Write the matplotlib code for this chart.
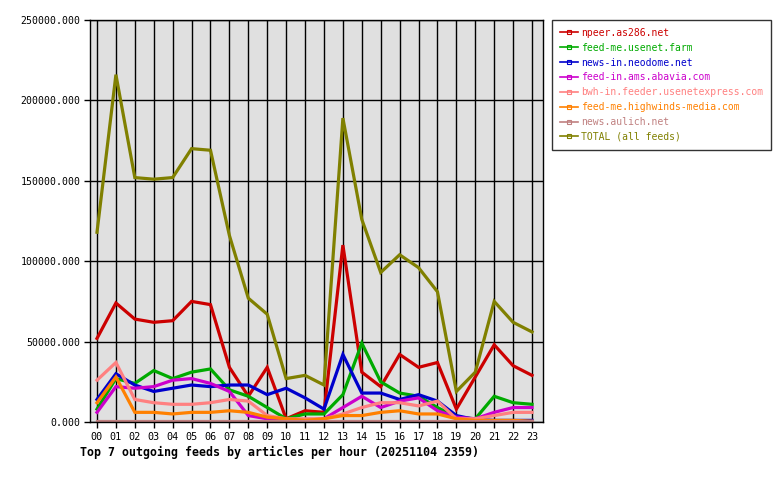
import matplotlib
matplotlib.use('Agg')
import matplotlib.pyplot as plt
from matplotlib.lines import Line2D
from matplotlib.ticker import FormatStrFormatter

# hours of the day
hours = ['%02d' % h for h in range(24)]

# articles per hour
npeer = [52000, 74000, 64000, 62000, 63000, 75000, 73000, 34000, 16000, 34000, 2000, 7000,
         6000, 110000, 31000, 22000, 42000, 34000, 37000, 8000, 28000, 48000, 35000, 29000]
usenet_farm = [8000, 27000, 24000, 32000, 27000, 31000, 33000, 20000, 16000, 9000, 2000, 5000,
               5000, 17000, 49000, 25000, 18000, 16000, 9000, 3000, 2000, 16000, 12000, 11000]
neodome = [14000, 30000, 23000, 19000, 21000, 23000, 22000, 23000, 23000, 17000, 21000, 15000,
           8000, 42000, 18000, 18000, 14000, 17000, 13000, 4000, 1500, 1000, 1000, 1000]
abavia = [6000, 22000, 21000, 22000, 26000, 27000, 24000, 19000, 4000, 2000, 1000, 1000,
          2000, 9000, 16000, 9000, 13000, 15000, 7000, 3000, 2000, 6000, 9000, 9000]
usenetexpress = [26000, 37000, 14000, 12000, 11000, 11000, 12000, 14000, 13000, 4000, 2000, 2000,
                 2000, 5000, 9000, 12000, 12000, 10000, 13000, 2000, 2000, 4000, 6000, 6000]
highwinds = [12000, 28000, 6000, 6000, 5000, 6000, 6000, 7000, 6000, 3000, 2000, 1000,
             2000, 4000, 4000, 6000, 7000, 5000, 5000, 2000, 1000, 1000, 1000, 500]
aulich = [500] * 24
total = [118000, 216000, 152000, 151000, 152000, 170000, 169000, 116000, 77000, 67000, 27000, 29000,
         23000, 189000, 126000, 93000, 104000, 96000, 81000, 19000, 31000, 75000, 62000, 56000]

series = [
    ('npeer.as286.net', npeer, '#cc0000'),
    ('feed-me.usenet.farm', usenet_farm, '#00aa00'),
    ('news-in.neodome.net', neodome, '#0000cc'),
    ('feed-in.ams.abavia.com', abavia, '#cc00cc'),
    ('bwh-in.feeder.usenetexpress.com', usenetexpress, '#ff8080'),
    ('feed-me.highwinds-media.com', highwinds, '#ff8000'),
    ('news.aulich.net', aulich, '#c08080'),
    ('TOTAL (all feeds)', total, '#808000'),
]

mono = 'DejaVu Sans Mono'
plt.rcParams['font.family'] = mono

fig = plt.figure(figsize=(7.8, 4.8), dpi=100)
W, H = 780, 480
ax = fig.add_axes([90 / W, (H - 422) / H, (543 - 90) / W, (422 - 20) / H])
ax.set_facecolor('#e0e0e0')

x = list(range(len(hours)))
for name, vals, col in series:
    ax.plot(x, vals, color=col, linewidth=2.3, solid_joinstyle='miter')

ax.set_xlim(-0.37, 23.58)
ax.set_ylim(0, 250000)
ax.set_xticks(x)
ax.set_xticklabels(hours, fontsize=7.3)
ax.set_yticks(range(0, 250001, 50000))
ax.yaxis.set_major_formatter(FormatStrFormatter('%.3f'))
ax.tick_params(axis='y', labelsize=7.1, length=4, width=1, pad=3)
ax.tick_params(axis='x', length=4, width=1, pad=3)
ax.grid(True, color='black', linewidth=1)
ax.set_axisbelow(True)
for sp in ax.spines.values():
    sp.set_linewidth(1)

fig.text(80 / W, 1 - 452 / H, 'Top 7 outgoing feeds by articles per hour (20251104 2359)',
         fontsize=8.4, fontweight='bold', va='center', ha='left')

handles = [Line2D([0], [0], color=col, linewidth=1.2, marker='s', markersize=3,
                  markerfacecolor='none', markeredgecolor=col, markeredgewidth=0.8)
           for _, _, col in series]
leg = fig.legend(handles, [s[0] for s in series], loc='upper left',
                 bbox_to_anchor=(552 / W, 1 - 20 / H), fontsize=7.0, frameon=True,
                 fancybox=False, borderpad=0.8, handlelength=1.9, handletextpad=0.3,
                 labelspacing=0.5, borderaxespad=0)
leg.get_frame().set_edgecolor('black')
leg.get_frame().set_linewidth(1)
for txt, (_, _, col) in zip(leg.get_texts(), series):
    txt.set_color(col)

fig.savefig('out.png', dpi=100)
